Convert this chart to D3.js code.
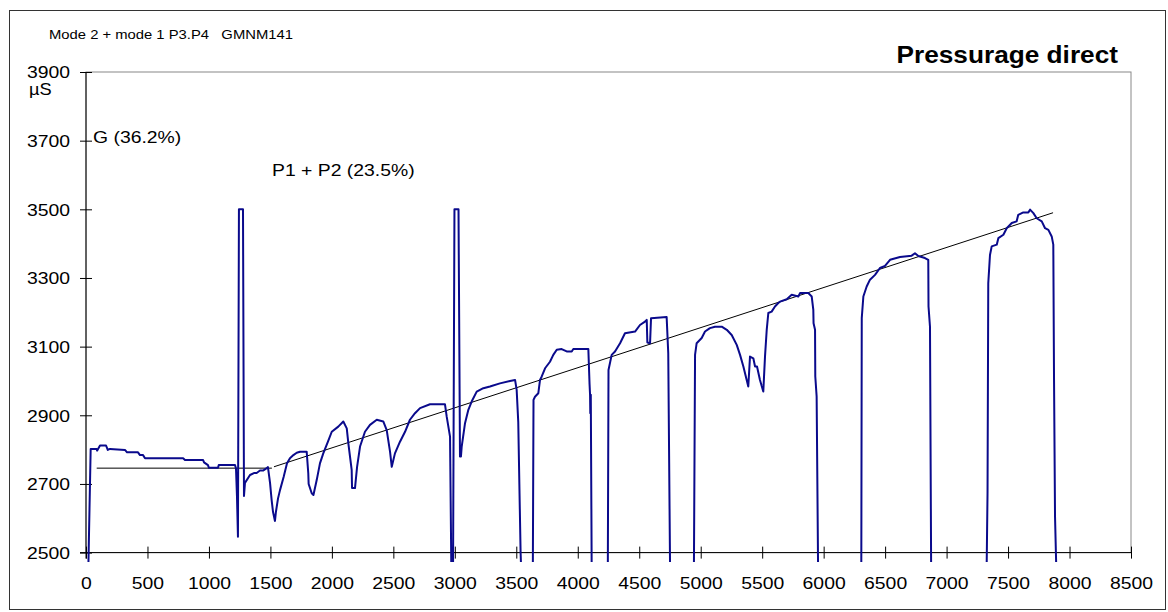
<!DOCTYPE html>
<html>
<head>
<meta charset="utf-8">
<script src="https://cdn.jsdelivr.net/npm/d3@7"></script>
<style>
  body { margin: 0; background: #fff; }
  text { font-family: "Liberation Sans", Arial, sans-serif; fill: #000; }
</style>
</head>
<body>
<script>
// measured signal, read off the reference (x in samples, y in µS)
// 2400 stands for readings that drop off the bottom of the chart
var signalX = [16, 38, 87, 90, 114, 163, 177, 195, 317, 334, 423, 439, 464, 480, 790, 805, 952, 960, 992, 1000, 1074, 1080, 1212, 1220, 1228, 1236, 1244, 1277, 1285, 1293, 1334, 1370, 1388, 1415, 1440, 1470, 1480, 1497, 1510, 1521, 1537, 1545, 1562, 1578, 1608, 1635, 1659, 1687, 1714, 1741, 1795, 1808, 1811, 1836, 1850, 1877, 1903, 1930, 1968, 1999, 2052, 2093, 2121, 2134, 2161, 2164, 2188, 2205, 2229, 2269, 2310, 2365, 2418, 2446, 2473, 2487, 2513, 2554, 2595, 2635, 2676, 2717, 2798, 2920, 2934, 2961, 2973, 2985, 2997, 3030, 3042, 3050, 3056, 3083, 3110, 3137, 3178, 3232, 3286, 3367, 3449, 3490, 3503, 3516, 3535, 3545, 3634, 3640, 3652, 3679, 3693, 3707, 3734, 3774, 3801, 3829, 3869, 3910, 3951, 3964, 4086, 4096, 4100, 4102, 4106, 4114, 4244, 4250, 4276, 4303, 4344, 4384, 4466, 4506, 4547, 4561, 4566, 4588, 4596, 4723, 4736, 4752, 4944, 4954, 4967, 5008, 5035, 5075, 5116, 5171, 5212, 5252, 5293, 5320, 5347, 5374, 5387, 5401, 5428, 5442, 5458, 5482, 5509, 5523, 5537, 5550, 5577, 5604, 5631, 5645, 5700, 5740, 5794, 5808, 5875, 5903, 5916, 5918, 5930, 5932, 5943, 5956, 6306, 6310, 6323, 6350, 6377, 6418, 6458, 6499, 6540, 6621, 6716, 6743, 6770, 6824, 6851, 6853, 6865, 6875, 7324, 7333, 7339, 7353, 7367, 7408, 7421, 7462, 7489, 7530, 7570, 7583, 7624, 7665, 7679, 7706, 7733, 7774, 7801, 7828, 7855, 7868, 7874, 7882, 7896];
var signalY = [2400, 2802, 2802, 2797, 2812, 2812, 2799, 2802, 2799, 2792, 2792, 2784, 2784, 2775, 2775, 2770, 2770, 2763, 2755, 2747, 2747, 2755, 2755, 2745, 2665, 2546, 3500, 3500, 2665, 2703, 2726, 2732, 2732, 2739, 2739, 2746, 2749, 2703, 2653, 2619, 2592, 2619, 2658, 2682, 2721, 2760, 2775, 2784, 2791, 2794, 2794, 2731, 2700, 2673, 2668, 2712, 2760, 2789, 2823, 2852, 2867, 2882, 2862, 2818, 2741, 2688, 2688, 2750, 2809, 2852, 2872, 2887, 2882, 2857, 2794, 2750, 2789, 2823, 2852, 2887, 2906, 2921, 2932, 2932, 2896, 2838, 2400, 2400, 3500, 3500, 2780, 2780, 2809, 2877, 2916, 2940, 2969, 2979, 2984, 2993, 3000, 3003, 2974, 2880, 2500, 2400, 2400, 2945, 2954, 2964, 3003, 3013, 3037, 3056, 3076, 3091, 3093, 3086, 3086, 3093, 3093, 2990, 2960, 2906, 2960, 2400, 2400, 3032, 3076, 3086, 3110, 3139, 3144, 3163, 3173, 3178, 3112, 3110, 3183, 3186, 3081, 2400, 2400, 3076, 3110, 3125, 3144, 3154, 3158, 3158, 3149, 3134, 3105, 3076, 3042, 3003, 2984, 3071, 3066, 3042, 3042, 3003, 2969, 3071, 3149, 3198, 3202, 3217, 3227, 3231, 3238, 3251, 3246, 3256, 3256, 3246, 3207, 3168, 3149, 3013, 2955, 2400, 2400, 3183, 3246, 3275, 3295, 3309, 3329, 3335, 3353, 3361, 3365, 3372, 3364, 3358, 3353, 3217, 3158, 2400, 2400, 2673, 3285, 3367, 3392, 3397, 3416, 3426, 3445, 3460, 3465, 3484, 3491, 3491, 3499, 3489, 3474, 3465, 3445, 3440, 3421, 3397, 3003, 2605, 2400];

// two fitted trend lines
var trendX = [[87, 1512], [1529, 7866]];
var trendY = [[2746, 2746], [2750, 3490]];

var xTicks = d3.range(0, 8501, 500);
var yTicks = d3.range(2500, 3901, 200);

var sx = 1.14; // text in the source is stretched horizontally

var svg = d3.select("body").append("svg")
    .attr("width", 1168)
    .attr("height", 612);

svg.append("rect")
    .attr("x", 9.5).attr("y", 10.5)
    .attr("width", 1156).attr("height", 599)
    .attr("fill", "none")
    .attr("stroke", "#333");

var x = d3.scaleLinear().domain([0, 8500]).range([86, 1131]);
var y = d3.scaleLinear().domain([2500, 3900]).range([552.6, 72]);

// the series runs a little past the bottom axis, then is cut off
svg.append("clipPath").attr("id", "clip")
  .append("rect")
    .attr("x", x(0)).attr("y", y(3900))
    .attr("width", x(8500) - x(0))
    .attr("height", y(2500) - y(3900) + 9.5);

// plot area frame (top and right show as grey)
svg.append("rect")
    .attr("x", x(0)).attr("y", y(3900))
    .attr("width", x(8500) - x(0))
    .attr("height", y(2500) - y(3900))
    .attr("fill", "none")
    .attr("stroke", "#888");

var xAxis = svg.append("g")
    .attr("transform", "translate(0," + y(2500) + ")")
    .call(d3.axisBottom(x).tickValues(xTicks).tickSize(6).tickFormat(d3.format("d")));
xAxis.select(".domain").attr("d", "M" + (x(0) - 6) + ",0H" + x(8500));
xAxis.selectAll(".tick line").attr("y1", -6).attr("y2", 6).attr("stroke", "#000");
xAxis.selectAll(".tick text")
    .attr("y", 36).attr("dy", null)
    .attr("transform", "scale(" + sx + ",1)")
    .style("font-size", "17px");

var yAxis = svg.append("g")
    .attr("transform", "translate(" + x(0) + ",0)")
    .call(d3.axisLeft(y).tickValues(yTicks).tickSize(6).tickFormat(d3.format("d")));
yAxis.select(".domain").attr("d", "M0," + y(3900) + "V" + (y(2500) + 6));
yAxis.selectAll(".tick line").attr("x1", -6).attr("x2", 6).attr("stroke", "#000");
yAxis.selectAll(".tick text")
    .attr("x", -16 / sx).attr("dy", "0.34em")
    .attr("transform", "scale(" + sx + ",1)")
    .style("font-size", "17px");
svg.selectAll(".domain").attr("stroke", "#000");
svg.selectAll(".tick text").attr("fill", "#000").attr("font-family", null);

// trend lines
for (var i = 0; i < trendX.length; i++) {
  svg.append("line")
      .attr("x1", x(trendX[i][0])).attr("y1", y(trendY[i][0]))
      .attr("x2", x(trendX[i][1])).attr("y2", y(trendY[i][1]))
      .attr("stroke", "#000")
      .attr("stroke-width", 1);
}

var pts = signalX.map(function(d, i) { return [d, signalY[i]]; });
svg.append("path")
    .datum(pts)
    .attr("clip-path", "url(#clip)")
    .attr("fill", "none")
    .attr("stroke", "#0a0a8c")
    .attr("stroke-width", 2)
    .attr("stroke-linejoin", "round")
    .attr("d", d3.line().x(function(d) { return x(d[0]); }).y(function(d) { return y(d[1]); }));

function label(px, py, str, size, weight, anchor) {
  svg.append("text")
      .attr("transform", "translate(" + px + "," + py + ") scale(" + sx + ",1)")
      .attr("text-anchor", anchor || "start")
      .style("font-size", size + "px")
      .style("font-weight", weight || "normal")
      .style("white-space", "pre")
      .text(str);
}

label(49, 39, "Mode 2 + mode 1 P3.P4   GMNM141", 13);
label(1118, 63, "Pressurage direct", 23, "bold", "end");
label(29, 95, "µS", 16);
label(93, 143, "G (36.2%)", 17);
label(272, 176, "P1 + P2 (23.5%)", 17);
</script>
</body>
</html>
